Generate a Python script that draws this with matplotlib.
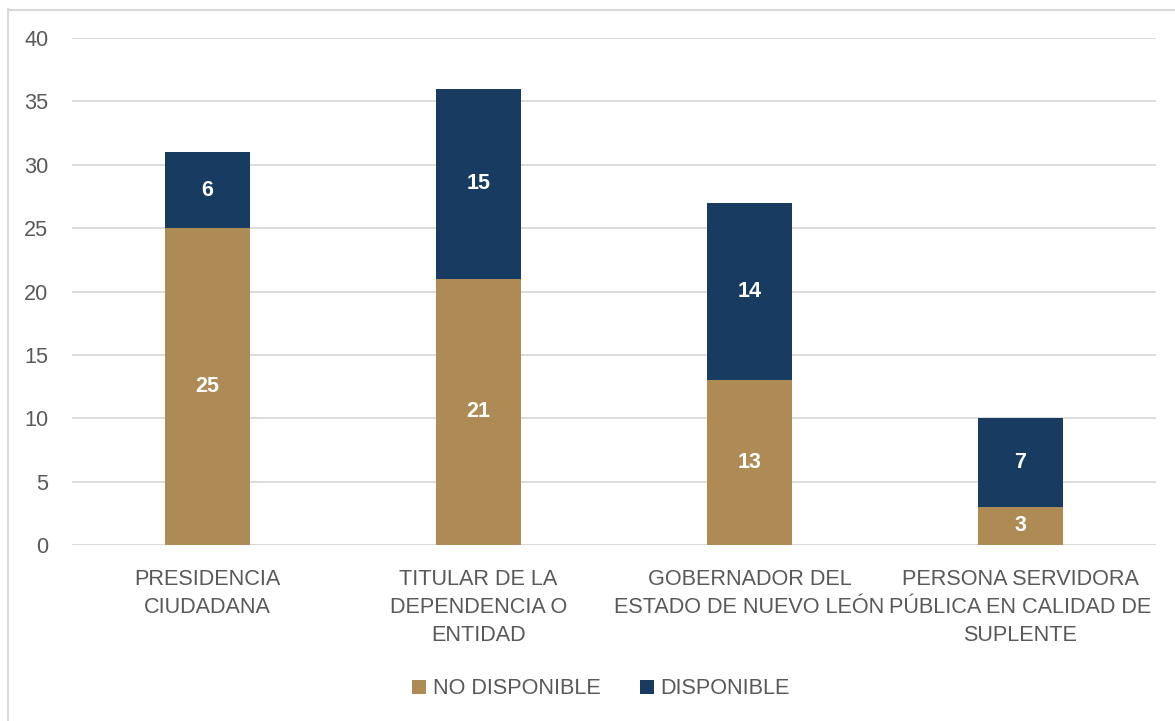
import matplotlib
matplotlib.use("Agg")
import matplotlib.pyplot as plt
from matplotlib.lines import Line2D
import numpy as np

categories = ["PRESIDENCIA\nCIUDADANA", "TITULAR DE LA\nDEPENDENCIA O\nENTIDAD",
              "GOBERNADOR DEL\nESTADO DE NUEVO LEÓN",
              "PERSONA SERVIDORA\nPÚBLICA EN CALIDAD DE\nSUPLENTE"]
no_disponible = [25, 21, 13, 3]
disponible = [6, 15, 14, 7]
series_names = ["NO DISPONIBLE", "DISPONIBLE"]
yticks = [0, 5, 10, 15, 20, 25, 30, 35, 40]

GOLD = "#AE8B55"
NAVY = "#173B61"
TXT = "#595959"
GRID = "#D9D9D9"
FS = 15.6

plt.rcParams['font.family'] = ['Liberation Sans', 'DejaVu Sans']

fig = plt.figure(figsize=(11.75, 7.21), dpi=100)
W, H = 1175, 721
ax = fig.add_axes([72 / W, 1 - 545 / H, (1156 - 72) / W, (545 - 38) / H])

x = np.arange(len(categories))
bw = 0.315
b1 = ax.bar(x, no_disponible, bw, color=GOLD, label=series_names[0], zorder=3)
b2 = ax.bar(x, disponible, bw, bottom=no_disponible, color=NAVY, label=series_names[1], zorder=3)

for rect, v in zip(b1, no_disponible):
    ax.text(rect.get_x() + rect.get_width() / 2, rect.get_y() + rect.get_height() / 2, str(v),
            ha='center', va='center', color='white', fontsize=15.5, fontweight='bold', zorder=4)
for rect, v in zip(b2, disponible):
    ax.text(rect.get_x() + rect.get_width() / 2, rect.get_y() + rect.get_height() / 2, str(v),
            ha='center', va='center', color='white', fontsize=15.5, fontweight='bold', zorder=4)

ax.set_xlim(-0.5, len(categories) - 0.5)
ax.set_ylim(0, 40)
ax.set_yticks(yticks)
ax.set_yticklabels([str(t) for t in yticks])
ax.set_xticks(x)
ax.set_xticklabels(categories, linespacing=1.45)
ax.tick_params(axis='y', length=0, pad=17, labelsize=FS, labelcolor=TXT)
ax.tick_params(axis='x', length=0, pad=17, labelsize=FS, labelcolor=TXT)
ax.yaxis.grid(True, color=GRID, linewidth=1.3, zorder=0)
for s in ax.spines.values():
    s.set_visible(False)
ax.axhline(0, color=GRID, linewidth=1.5, zorder=2)

leg = fig.legend(handles=[b1, b2], labels=series_names, loc='center',
                 bbox_to_anchor=(601 / W, 1 - 689 / H), ncol=2, frameon=False,
                 fontsize=FS, handlelength=0.65, handleheight=0.65, handletextpad=0.3,
                 columnspacing=1.8, labelcolor=TXT)

# outer border (partially cropped)
fig.add_artist(Line2D([7.5 / W, 7.5 / W], [0, 1 - 9 / H], color=GRID, linewidth=1.5,
                      transform=fig.transFigure))
fig.add_artist(Line2D([7.5 / W, 1], [1 - 9.5 / H, 1 - 9.5 / H], color=GRID, linewidth=1.5,
                      transform=fig.transFigure))

fig.savefig("out.png", dpi=100)
